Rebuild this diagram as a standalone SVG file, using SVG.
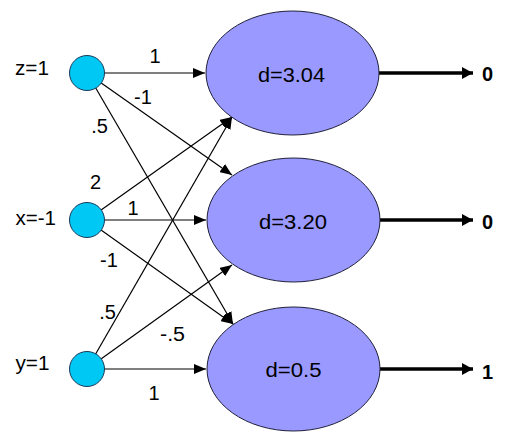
<svg xmlns="http://www.w3.org/2000/svg" width="518" height="439" viewBox="0 0 518 439">
  <style>
    .t { font-family: "Liberation Sans", Arial, sans-serif; font-size: 20px; fill: #000; }
    .w { text-anchor: middle; }
    .o { font-weight: bold; }
    .edge { stroke: #000; stroke-width: 1.2; fill: none; marker-end: url(#ah); }
    .out { stroke: #000; stroke-width: 3.5; fill: none; marker-end: url(#ahb); }
    .in { fill: #00C8F5; stroke: #1A3A5A; stroke-width: 1; }
    .hid { fill: #9999FF; stroke: #20203A; stroke-width: 1; }
  </style>
  <defs>
    <marker id="ah" markerUnits="userSpaceOnUse" markerWidth="12" markerHeight="10" refX="12" refY="5" orient="auto" viewBox="0 0 12 10">
      <path d="M0,0 L12,5 L0,10 z" fill="#000"/>
    </marker>
    <marker id="ahb" markerUnits="userSpaceOnUse" markerWidth="11" markerHeight="12" refX="11" refY="6" orient="auto" viewBox="0 0 11 12">
      <path d="M0,0 L11,6 L0,12 z" fill="#000"/>
    </marker>
  </defs>
  <rect width="518" height="439" fill="#fff"/>
  <g id="connectors">
    <line class="edge" x1="87" y1="73" x2="205" y2="73"/>
    <line class="edge" x1="87" y1="73" x2="232" y2="175"/>
    <line class="edge" x1="87" y1="73" x2="233" y2="324"/>
    <line class="edge" x1="87" y1="220" x2="232" y2="117"/>
    <line class="edge" x1="87" y1="220" x2="206" y2="220"/>
    <line class="edge" x1="87" y1="220" x2="233" y2="324"/>
    <line class="edge" x1="87" y1="369" x2="232" y2="117"/>
    <line class="edge" x1="87" y1="369" x2="232" y2="265"/>
    <line class="edge" x1="87" y1="369" x2="206" y2="369"/>
    <line class="out" x1="379" y1="73" x2="473" y2="73"/>
    <line class="out" x1="380" y1="220" x2="473" y2="220"/>
    <line class="out" x1="380" y1="369" x2="473" y2="369"/>
  </g>
  <g id="weights">
    <text class="t w" x="155" y="63">1</text>
    <text class="t w" x="143" y="104">-1</text>
    <text class="t w" x="99.5" y="133">.5</text>
    <text class="t w" x="95.5" y="189">2</text>
    <text class="t w" x="133" y="215">1</text>
    <text class="t w" x="109" y="267">-1</text>
    <text class="t w" x="107.5" y="319">.5</text>
    <text class="t w" x="172.5" y="341" textLength="25" lengthAdjust="spacingAndGlyphs">-.5</text>
    <text class="t w" x="154" y="400">1</text>
  </g>
  <g id="node-z">
    <circle class="in" cx="87" cy="73" r="17.5"/>
    <text class="t" x="15" y="75" textLength="34" lengthAdjust="spacingAndGlyphs">z=1</text>
  </g>
  <g id="node-x">
    <circle class="in" cx="87" cy="220" r="17.5"/>
    <text class="t" x="15.5" y="225" textLength="40.5" lengthAdjust="spacingAndGlyphs">x=-1</text>
  </g>
  <g id="node-y">
    <circle class="in" cx="87" cy="369" r="17.5"/>
    <text class="t" x="15.5" y="370" textLength="34" lengthAdjust="spacingAndGlyphs">y=1</text>
  </g>
  <g id="node-h1">
    <ellipse class="hid" cx="292.5" cy="73" rx="86.5" ry="62"/>
    <text class="t" x="258" y="81.5" textLength="67" lengthAdjust="spacingAndGlyphs">d=3.04</text>
  </g>
  <g id="node-h2">
    <ellipse class="hid" cx="293.5" cy="220" rx="86.5" ry="62"/>
    <text class="t" x="259" y="228.5" textLength="68" lengthAdjust="spacingAndGlyphs">d=3.20</text>
  </g>
  <g id="node-h3">
    <ellipse class="hid" cx="293.5" cy="369" rx="86.5" ry="62"/>
    <text class="t" x="265.5" y="377" textLength="56" lengthAdjust="spacingAndGlyphs">d=0.5</text>
  </g>
  <g id="outputs">
    <text class="t o" x="482" y="81">0</text>
    <text class="t o" x="482" y="228.5">0</text>
    <text class="t o" x="482" y="379">1</text>
  </g>
</svg>
